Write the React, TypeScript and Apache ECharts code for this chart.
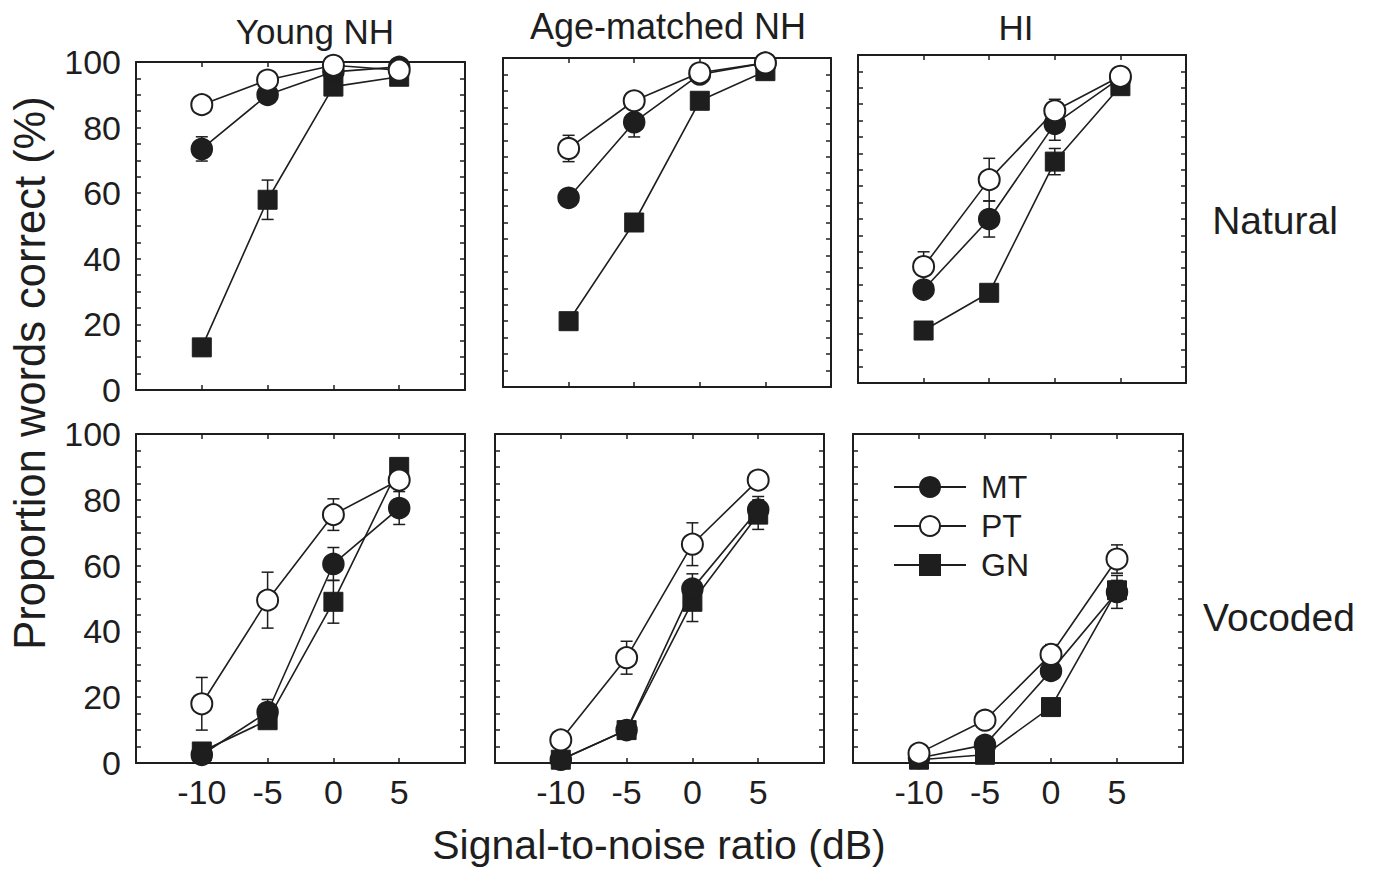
import React, { useEffect, useRef } from 'react';
import * as echarts from 'echarts';

// ---------- data ----------
const snr = [-10, -5, 0, 5];
const groups = ['Young NH', 'Age-matched NH', 'HI'];
const conditions = ['Natural', 'Vocoded'];
const seriesNames = ['MT', 'PT', 'GN'];
const xTickLabels = [-10, -5, 0, 5];
const yTickLabels = [0, 20, 40, 60, 80, 100];

// Natural speech
const natYoungMT = [73.5, 90, 97, 98.5];
const natYoungMTErr = [3.7, 2.5, 1, 1];
const natYoungPT = [87, 94.5, 99, 97.5];
const natYoungPTErr = [1.5, 1.5, 1, 1];
const natYoungGN = [13, 58, 92.5, 95.5];
const natYoungGNErr = [2.5, 6, 2, 1.5];

const natAgeMT = [57.5, 80.5, 95, 98.5];
const natAgeMTErr = [2, 4.5, 1, 1];
const natAgePT = [72.5, 87, 95.5, 98.5];
const natAgePTErr = [4, 2, 1, 1];
const natAgeGN = [20, 50, 87, 96];
const natAgeGNErr = [1.5, 2, 1.5, 1];

const natHIMT = [28.5, 50, 79, 93];
const natHIMTErr = [2, 5.5, 5, 1];
const natHIPT = [35.5, 62, 83, 93.5];
const natHIPTErr = [4.5, 6.5, 3.5, 1];
const natHIGN = [16, 27.5, 67.5, 90.5];
const natHIGNErr = [2, 2, 4, 1.5];

// Vocoded speech
const vocYoungMT = [2.5, 15.5, 60.5, 77.5];
const vocYoungMTErr = [1, 3.8, 5, 5];
const vocYoungPT = [18, 49.5, 75.5, 86];
const vocYoungPTErr = [8, 8.5, 4.8, 2];
const vocYoungGN = [3.5, 13, 49, 90];
const vocYoungGNErr = [1.5, 2, 6.5, 2];

const vocAgeMT = [1, 10, 53, 77];
const vocAgeMTErr = [0.5, 1.5, 4.5, 4];
const vocAgePT = [7, 32, 66.5, 86];
const vocAgePTErr = [1, 5, 6.5, 1.5];
const vocAgeGN = [1, 10, 49, 75.5];
const vocAgeGNErr = [0.5, 1.5, 6, 4.5];

const vocHIMT = [1.5, 5.5, 28, 52];
const vocHIMTErr = [0.5, 2, 2, 5];
const vocHIPT = [3, 13, 33, 62];
const vocHIPTErr = [1, 1, 3, 4.3];
const vocHIGN = [1, 2.5, 17, 52.5];
const vocHIGNErr = [0.5, 1, 2.5, 3];

// ---------- layout / style ----------
const INK = '#1e1e1e';
const FONT = '"Liberation Sans", Arial, Helvetica, sans-serif';
const gridBoxes = [
  [136, 62, 329, 328],
  [503, 58, 328, 329],
  [858, 55, 328, 328],
  [136, 434, 329, 329],
  [495, 434, 329, 329],
  [853, 434, 330, 329],
];
const titlePos = [
  [315, 31],
  [668, 26],
  [1016, 27],
];
const rowLabelPos = [
  [1275, 220],
  [1279, 617],
];

const panels = [
  { MT: [natYoungMT, natYoungMTErr], PT: [natYoungPT, natYoungPTErr], GN: [natYoungGN, natYoungGNErr] },
  { MT: [natAgeMT, natAgeMTErr], PT: [natAgePT, natAgePTErr], GN: [natAgeGN, natAgeGNErr] },
  { MT: [natHIMT, natHIMTErr], PT: [natHIPT, natHIPTErr], GN: [natHIGN, natHIGNErr] },
  { MT: [vocYoungMT, vocYoungMTErr], PT: [vocYoungPT, vocYoungPTErr], GN: [vocYoungGN, vocYoungGNErr] },
  { MT: [vocAgeMT, vocAgeMTErr], PT: [vocAgePT, vocAgePTErr], GN: [vocAgeGN, vocAgeGNErr] },
  { MT: [vocHIMT, vocHIMTErr], PT: [vocHIPT, vocHIPTErr], GN: [vocHIGN, vocHIGNErr] },
];

const symbolStyle: Record<string, any> = {
  MT: { symbol: 'circle', symbolSize: 21, itemStyle: { color: INK, borderColor: INK, borderWidth: 1.5 } },
  PT: { symbol: 'circle', symbolSize: 21, itemStyle: { color: '#ffffff', borderColor: INK, borderWidth: 2 } },
  GN: { symbol: 'rect', symbolSize: 19, itemStyle: { color: INK, borderColor: INK, borderWidth: 1 } },
};

function buildOption() {
  const grid: any[] = [];
  const xAxis: any[] = [];
  const yAxis: any[] = [];
  const series: any[] = [];

  const axisLine = { show: true, onZero: false, lineStyle: { color: INK, width: 2 } };
  const axisTick = { show: true, inside: true, length: 5, lineStyle: { color: INK, width: 1.5 } };

  gridBoxes.forEach((b, i) => {
    const row = Math.floor(i / 3);
    const col = i % 3;
    grid.push({ left: b[0], top: b[1], width: b[2], height: b[3], containLabel: false });

    const xLabel = {
      show: row === 1,
      fontSize: 34,
      fontFamily: FONT,
      color: INK,
      margin: 12,
      formatter: (v: number) => (xTickLabels.includes(v) ? String(v) : ''),
    };
    xAxis.push({
      type: 'value', gridIndex: i, position: 'bottom', min: -15, max: 10, interval: 5,
      axisLine, axisTick, axisLabel: xLabel, splitLine: { show: false },
    });
    xAxis.push({
      type: 'value', gridIndex: i, position: 'top', min: -15, max: 10, interval: 5,
      axisLine, axisTick, axisLabel: { show: false }, splitLine: { show: false },
    });
    yAxis.push({
      type: 'value', gridIndex: i, position: 'left', min: 0, max: 100, interval: 5,
      axisLine, axisTick,
      axisLabel: {
        show: col === 0, fontSize: 34, fontFamily: FONT, color: INK, margin: 15,
        formatter: (v: number) => (yTickLabels.includes(v) ? String(v) : ''),
      },
      splitLine: { show: false },
    });
    yAxis.push({
      type: 'value', gridIndex: i, position: 'right', min: 0, max: 100, interval: 5,
      axisLine, axisTick, axisLabel: { show: false }, splitLine: { show: false },
    });

    const p: any = panels[i];
    // error bars
    const errData: number[][] = [];
    seriesNames.forEach((n) => {
      const [vals, errs] = p[n];
      snr.forEach((x, k) => errData.push([x, vals[k], errs[k]]));
    });
    series.push({
      type: 'custom',
      name: 'err' + i,
      coordinateSystem: 'cartesian2d',
      xAxisIndex: 2 * i,
      yAxisIndex: 2 * i,
      z: 1,
      silent: true,
      clip: false,
      encode: { x: 0, y: 1 },
      data: errData,
      renderItem: (_params: any, api: any) => {
        const x = api.value(0);
        const y = api.value(1);
        const e = api.value(2);
        const t = api.coord([x, y + e]);
        const bt = api.coord([x, y - e]);
        const w = 6;
        const st = { stroke: INK, lineWidth: 1.5 };
        return {
          type: 'group',
          children: [
            { type: 'line', shape: { x1: t[0], y1: t[1], x2: bt[0], y2: bt[1] }, style: st },
            { type: 'line', shape: { x1: t[0] - w, y1: t[1], x2: t[0] + w, y2: t[1] }, style: st },
            { type: 'line', shape: { x1: bt[0] - w, y1: bt[1], x2: bt[0] + w, y2: bt[1] }, style: st },
          ],
        };
      },
    });
    // draw order: GN, MT, PT (PT on top)
    ['GN', 'MT', 'PT'].forEach((n) => {
      const [vals] = p[n];
      series.push({
        type: 'line',
        name: n,
        xAxisIndex: 2 * i,
        yAxisIndex: 2 * i,
        z: 2,
        data: snr.map((x, k) => [x, vals[k]]),
        ...symbolStyle[n],
        showAllSymbol: true,
        lineStyle: { color: INK, width: 1.6 },
        emphasis: { disabled: true },
        clip: false,
      });
    });
  });

  const graphic: any[] = [];
  groups.forEach((g, i) => {
    graphic.push({
      type: 'text', x: titlePos[i][0], y: titlePos[i][1],
      style: { text: g, fontSize: i === 1 ? 36 : 35, fontFamily: FONT, fill: INK, textAlign: 'center', textVerticalAlign: 'middle', align: 'center', verticalAlign: 'middle' },
    });
  });
  conditions.forEach((c, i) => {
    graphic.push({
      type: 'text', x: rowLabelPos[i][0], y: rowLabelPos[i][1],
      style: { text: c, fontSize: 39, fontFamily: FONT, fill: INK, textAlign: 'center', textVerticalAlign: 'middle', align: 'center', verticalAlign: 'middle' },
    });
  });
  graphic.push({
    type: 'text', x: 30, y: 373, rotation: Math.PI / 2,
    style: { text: 'Proportion words correct (%)', fontSize: 43.5, fontFamily: FONT, fill: INK, textAlign: 'center', textVerticalAlign: 'middle', align: 'center', verticalAlign: 'middle' },
  });
  graphic.push({
    type: 'text', x: 659, y: 845,
    style: { text: 'Signal-to-noise ratio (dB)', fontSize: 41, fontFamily: FONT, fill: INK, textAlign: 'center', textVerticalAlign: 'middle', align: 'center', verticalAlign: 'middle' },
  });

  return {
    animation: false,
    backgroundColor: '#ffffff',
    grid,
    xAxis,
    yAxis,
    series,
    graphic,
    legend: {
      data: seriesNames,
      orient: 'vertical',
      left: 893,
      top: 471,
      padding: 0,
      itemWidth: 72,
      itemHeight: 25,
      itemGap: 7,
      selectedMode: false,
      textStyle: { fontSize: 32, fontFamily: FONT, color: INK, padding: [0, 0, 0, 10] },
    },
  };
}

export default function App() {
  const ref = useRef<HTMLDivElement>(null);
  useEffect(() => {
    if (!ref.current) return;
    const chart = echarts.init(ref.current, undefined, { renderer: 'svg' });
    chart.setOption(buildOption() as any);
    return () => chart.dispose();
  }, []);
  return (
    <div
      ref={ref}
      style={{ position: 'fixed', left: 0, top: 0, width: 1378, height: 869, background: '#fff' }}
    />
  );
}
